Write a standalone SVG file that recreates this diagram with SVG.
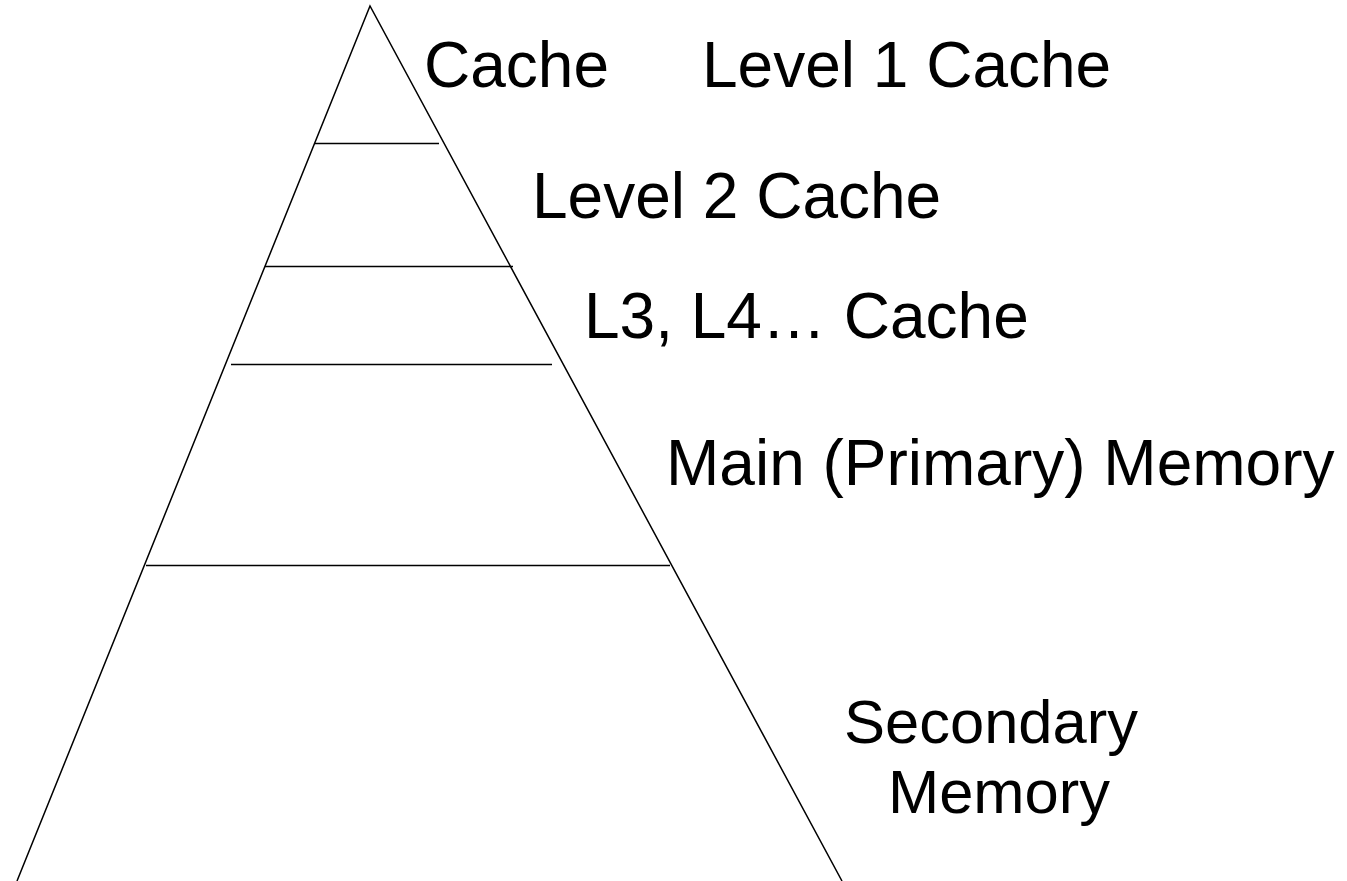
<svg xmlns="http://www.w3.org/2000/svg" width="1347" height="881" viewBox="0 0 1347 881">
<style>
.ln{stroke:#000;stroke-width:1.5;fill:none}
.t{font-family:"Liberation Sans",Arial,sans-serif;font-size:64px;fill:#000}
.s{font-size:61.5px}
</style>
<rect width="1347" height="881" fill="#fff"/>
<g id="pyramid">
<polyline class="ln" points="17,881 370,6 842,881"/>
<line class="ln" x1="315" y1="143.5" x2="439" y2="143.5"/>
<line class="ln" x1="265" y1="266.5" x2="513" y2="266.5"/>
<line class="ln" x1="231" y1="364.5" x2="552" y2="364.5"/>
<line class="ln" x1="146" y1="565.5" x2="670" y2="565.5"/>
</g>
<g id="labels">
<text class="t" x="424" y="87">Cache</text>
<text class="t" x="702" y="87">Level 1 Cache</text>
<text class="t" x="532" y="218">Level 2 Cache</text>
<text class="t" x="584" y="338">L3, L4… Cache</text>
<text class="t" x="666" y="485">Main (Primary) Memory</text>
<text class="t s" x="991" y="743" text-anchor="middle">Secondary</text>
<text class="t s" x="999" y="813" text-anchor="middle">Memory</text>
</g>
</svg>
